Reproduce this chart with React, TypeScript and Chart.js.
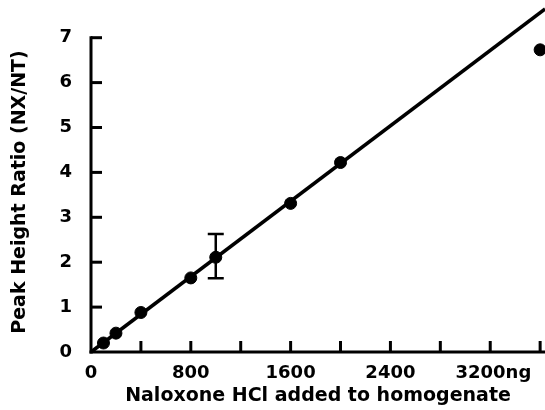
import React, { useEffect, useRef } from 'react';
import { Chart, registerables } from 'chart.js';

Chart.register(...registerables);

// ---- data ----
const doseNg = [100, 200, 400, 800, 1000, 1600, 2000, 3600];
const peakRatio = [0.2, 0.42, 0.88, 1.65, 2.11, 3.31, 4.22, 6.73];

const errorDose = [1000];
const errorLow = [1.64];
const errorHigh = [2.63];

const fitDose = [0, 3640];
const fitRatio = [0, 7.64];

const xTickValues = [0, 400, 800, 1200, 1600, 2000, 2400, 2800, 3200, 3600];
const xTickLabels = ['0', '', '800', '', '1600', '', '2400', '', ' 3200ng', ''];
const yTickValues = [0, 1, 2, 3, 4, 5, 6, 7];
const yTickLabels = ['0', '1', '2', '3', '4', '5', '6', '7'];

const X_MAX = 3639;
const Y_MAX = 7.127;

const FONT = '"DejaVu Sans", "Liberation Sans", Arial, sans-serif';

const axesPlugin = {
  id: 'sketchAxes',
  beforeDatasetsDraw(chart: any) {
    const { ctx } = chart;
    const x = chart.scales.x;
    const y = chart.scales.y;
    const x0 = x.getPixelForValue(0);
    const y0 = y.getPixelForValue(0);
    ctx.save();
    ctx.strokeStyle = '#000';
    ctx.lineWidth = 3;
    ctx.lineCap = 'butt';
    // y axis
    ctx.beginPath();
    ctx.moveTo(x0, y0 + 1.5);
    ctx.lineTo(x0, y.getPixelForValue(yTickValues[yTickValues.length - 1]) - 1.5);
    ctx.stroke();
    // x axis
    ctx.beginPath();
    ctx.moveTo(x0 - 1.5, y0);
    ctx.lineTo(chart.width, y0);
    ctx.stroke();
    // inward ticks
    yTickValues.forEach((v) => {
      if (v === 0) return;
      const py = y.getPixelForValue(v);
      ctx.beginPath();
      ctx.moveTo(x0, py);
      ctx.lineTo(x0 + 11, py);
      ctx.stroke();
    });
    xTickValues.forEach((v) => {
      if (v === 0) return;
      const px = x.getPixelForValue(v);
      ctx.beginPath();
      ctx.moveTo(px, y0);
      ctx.lineTo(px, y0 - 11);
      ctx.stroke();
    });
    ctx.restore();
  },
  afterDatasetsDraw(chart: any) {
    const { ctx } = chart;
    const x = chart.scales.x;
    const y = chart.scales.y;
    ctx.save();
    ctx.strokeStyle = '#000';
    ctx.lineWidth = 2.5;
    errorDose.forEach((d, i) => {
      const px = x.getPixelForValue(d);
      const pLo = y.getPixelForValue(errorLow[i]);
      const pHi = y.getPixelForValue(errorHigh[i]);
      ctx.beginPath();
      ctx.moveTo(px, pLo);
      ctx.lineTo(px, pHi);
      ctx.moveTo(px - 8, pLo);
      ctx.lineTo(px + 8, pLo);
      ctx.moveTo(px - 8, pHi);
      ctx.lineTo(px + 8, pHi);
      ctx.stroke();
    });
    ctx.restore();
  },
};

export default function App() {
  const ref = useRef<HTMLCanvasElement | null>(null);

  useEffect(() => {
    if (!ref.current) return;
    const tickFont = { family: FONT, size: 18, weight: 'bold' as const };
    const chart = new Chart(ref.current, {
      type: 'scatter',
      data: {
        datasets: [
          {
            type: 'line',
            data: fitDose.map((d, i) => ({ x: d, y: fitRatio[i] })),
            borderColor: '#000',
            borderWidth: 3.5,
            pointRadius: 0,
            fill: false,
            clip: false,
            order: 2,
          } as any,
          {
            type: 'scatter',
            data: doseNg.map((d, i) => ({ x: d, y: peakRatio[i] })),
            pointRadius: 6,
            pointBackgroundColor: '#000',
            pointBorderColor: '#000',
            pointBorderWidth: 1,
            clip: false,
            order: 1,
          } as any,
        ],
      },
      options: {
        responsive: false,
        animation: false,
        devicePixelRatio: 1,
        layout: { autoPadding: false, padding: { top: 32, right: 0, left: 0, bottom: 0 } },
        plugins: {
          legend: { display: false },
          tooltip: { enabled: false },
        },
        scales: {
          x: {
            type: 'linear',
            min: 0,
            max: X_MAX,
            afterBuildTicks: (s: any) => {
              s.ticks = xTickValues.map((v) => ({ value: v }));
            },
            afterFit: (s: any) => {
              s.height = 58;
              s.paddingLeft = 0;
              s.paddingRight = 0;
            },
            grid: { display: false, drawTicks: false },
            border: { display: false },
            ticks: {
              autoSkip: false,
              maxRotation: 0,
              padding: 11,
              color: '#000',
              font: tickFont,
              callback: (_v: any, i: number) => xTickLabels[i],
            },
            title: {
              display: true,
              text: 'Naloxone HCl added to homogenate',
              color: '#000',
              font: { family: FONT, size: 19, weight: 'bold' },
              padding: { top: 0, bottom: 3 },
            },
          },
          y: {
            type: 'linear',
            min: 0,
            max: Y_MAX,
            afterBuildTicks: (s: any) => {
              s.ticks = yTickValues.map((v) => ({ value: v }));
            },
            afterFit: (s: any) => {
              s.width = 91;
              s.paddingTop = 0;
              s.paddingBottom = 0;
            },
            grid: { display: false, drawTicks: false },
            border: { display: false },
            ticks: {
              autoSkip: false,
              padding: 19,
              color: '#000',
              font: tickFont,
              callback: (_v: any, i: number) => yTickLabels[i],
            },
            title: {
              display: true,
              text: 'Peak Height Ratio (NX/NT)',
              color: '#000',
              font: { family: FONT, size: 19, weight: 'bold' },
              padding: { top: 9, bottom: 0 },
            },
          },
        },
      },
      plugins: [axesPlugin],
    });
    return () => chart.destroy();
  }, []);

  return (
    <div
      style={{
        position: 'fixed',
        left: 0,
        top: 0,
        width: 545,
        height: 410,
        background: '#fff',
      }}
    >
      <canvas ref={ref} width={545} height={410} style={{ display: 'block' }} />
    </div>
  );
}
